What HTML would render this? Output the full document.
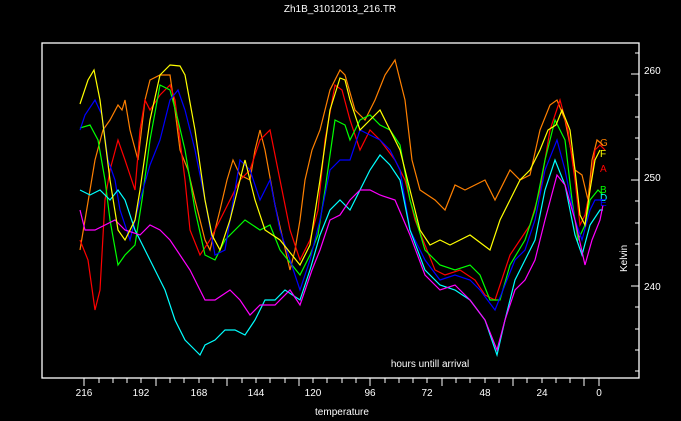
<!DOCTYPE html><html><head><style>body{margin:0;background:#000}svg{display:block}text{font-family:"Liberation Sans",sans-serif;fill:#fff;font-size:10px}</style></head><body>
<svg width="681" height="421" viewBox="0 0 681 421" xmlns="http://www.w3.org/2000/svg">
<rect width="681" height="421" fill="#000"/>
<text x="340" y="12" text-anchor="middle">Zh1B_31012013_216.TR</text>
<rect x="42" y="43" width="597" height="335" fill="none" stroke="#fff" stroke-width="1.3"/>
<g stroke="#fff" stroke-width="1">
<path d="M84 378v8M227 378v8M370 378v8M513 378v8M156 378v8M299 378v8M442 378v8M584 378v8"/>
<path d="M99 378v5M113 378v5M127 378v5M141 378v5M170 378v5M184 378v5M199 378v5M213 378v5M242 378v5M256 378v5M270 378v5M285 378v5M313 378v5M327 378v5M342 378v5M356 378v5M385 378v5M399 378v5M413 378v5M427 378v5M456 378v5M470 378v5M485 378v5M499 378v5M527 378v5M542 378v5M556 378v5M570 378v5M599 378v8"/>
<path d="M639 74h-8M639 180h-8M639 286h-8M639 53h-4M639 95h-4M639 117h-4M639 138h-4M639 159h-4M639 201h-4M639 223h-4M639 244h-4M639 265h-4M639 307h-4M639 329h-4M639 350h-4M639 371h-4"/>
</g>
<g text-anchor="middle"><text x="84" y="396">216</text><text x="141" y="396">192</text><text x="199" y="396">168</text><text x="256" y="396">144</text><text x="313" y="396">120</text><text x="370" y="396">96</text><text x="427" y="396">72</text><text x="485" y="396">48</text><text x="542" y="396">24</text><text x="599" y="396">0</text></g>
<text x="644" y="74">260</text><text x="644" y="181">250</text><text x="644" y="290">240</text>
<text transform="translate(627,272) rotate(-90)">Kelvin</text>
<text x="430" y="367" text-anchor="middle">hours untill arrival</text>
<text x="342" y="415" text-anchor="middle">temperature</text>
<g fill="none" stroke-width="1.2">
<polyline stroke="#ff8000" points="80,250 85,220 95,160 103,130 110,120 118,105 122,110 125,100 130,130 138,160 145,100 150,80 160,75 165,75 170,75 175,110 180,150 188,170 195,200 205,240 210,250 220,210 227,180 233,160 240,175 250,180 255,150 260,130 265,150 275,205 290,270 295,250 300,220 305,180 312,150 320,130 330,90 340,70 345,75 355,110 365,120 375,100 385,75 395,60 405,100 412,160 420,190 435,200 445,210 455,185 465,190 475,185 485,180 495,200 510,170 520,180 530,175 540,130 550,105 557,100 565,120 575,170 582,175 588,200 592,160 597,140 603,145"/>
<polyline stroke="#ff0000" points="80,240 88,260 95,310 100,290 105,200 110,170 118,140 125,160 135,190 140,130 145,100 150,110 160,95 170,85 175,100 180,140 185,180 190,230 200,255 210,240 220,220 230,200 240,180 250,170 260,140 270,130 280,180 290,230 300,260 310,240 318,210 325,140 335,85 342,90 350,120 360,150 370,130 380,140 395,160 405,180 415,220 425,245 435,270 445,275 460,270 475,280 485,295 495,300 500,285 510,255 520,240 530,225 540,190 550,130 560,100 568,130 575,180 580,225 585,215 590,190 595,150 600,145 605,150"/>
<polyline stroke="#00ff00" points="80,128 90,125 98,140 105,180 110,220 118,265 125,255 135,245 142,200 150,140 160,85 170,90 178,120 185,150 195,210 205,255 215,260 225,240 235,230 245,220 260,230 270,225 280,250 300,275 310,255 318,235 325,190 335,120 345,125 350,140 360,120 370,115 380,125 390,130 400,145 410,200 425,250 440,265 455,270 470,265 480,275 490,300 500,300 510,265 525,240 535,210 545,160 555,120 565,140 572,200 578,240 585,225 590,200 598,190 603,195"/>
<polyline stroke="#0000ff" points="80,130 85,115 95,100 102,115 108,160 115,180 120,210 130,240 140,200 150,165 160,140 170,100 178,90 185,110 195,150 205,200 215,255 225,250 240,160 250,170 260,200 270,180 280,230 300,290 310,260 320,220 330,170 340,160 350,160 360,130 370,135 380,140 390,150 400,170 410,230 425,260 440,280 455,275 470,280 480,290 495,310 505,285 515,260 525,250 535,220 545,170 557,140 565,170 575,220 582,240 590,210 595,200 603,200"/>
<polyline stroke="#00ffff" points="80,190 90,195 100,190 110,200 118,190 125,200 135,230 145,250 155,270 165,290 175,320 185,340 195,350 200,355 205,345 215,340 225,330 235,330 245,335 255,320 265,300 275,300 285,290 300,300 310,270 320,235 330,210 340,200 350,210 360,190 370,170 380,155 390,165 400,180 410,230 425,270 440,285 455,290 470,300 485,320 497,355 505,320 515,280 525,260 535,240 545,190 555,160 565,185 575,235 582,255 590,225 600,210 603,210"/>
<polyline stroke="#ff00ff" points="80,210 85,230 95,230 105,225 115,220 125,230 140,235 150,225 160,230 170,240 180,255 190,270 205,300 215,300 230,290 240,300 250,315 260,305 275,305 290,290 300,305 312,270 320,250 330,220 340,215 350,200 360,190 370,190 380,195 395,200 410,235 425,275 440,290 455,285 470,300 485,320 497,350 505,320 515,290 525,280 535,260 545,220 557,175 565,185 575,220 585,265 592,240 600,220 603,205"/>
<polyline stroke="#ffff00" points="80,104 88,80 94,70 100,100 110,180 118,230 125,240 135,220 140,190 150,120 160,75 170,65 180,66 185,75 195,130 205,200 212,235 220,250 230,220 240,180 245,160 255,200 265,230 280,240 300,265 310,245 320,180 330,110 340,78 345,80 350,100 360,130 370,120 380,110 390,130 400,150 410,190 420,230 430,245 440,240 450,245 470,235 490,250 500,220 510,200 520,180 530,170 540,150 548,130 556,125 562,110 570,130 575,170 580,215 585,225 590,190 595,160 600,150"/>
</g>
<g font-size="10"><text x="600" y="146" style="fill:#ff8000">G</text><text x="600" y="157" style="fill:#ffff00">F</text><text x="600" y="172" style="fill:#ff0000">A</text><text x="600" y="193" style="fill:#00ff00">B</text><text x="600" y="201" style="fill:#00ffff">D</text><text x="600" y="206" style="fill:#0000ff">E</text></g>
</svg></body></html>
